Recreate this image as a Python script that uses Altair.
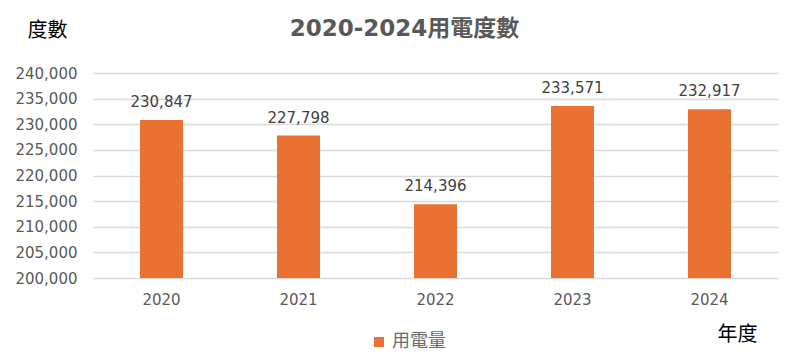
import altair as alt
import pandas as pd

years = ["2020", "2021", "2022", "2023", "2024"]
usage = [230847, 227798, 214396, 233571, 232917]
series = ["用電量"] * 5

df = pd.DataFrame({"年度": years, "用電量值": usage, "系列": series})

FONT = "DejaVu Sans, Noto Sans CJK TC, sans-serif"
CJK = "Noto Sans CJK TC, sans-serif"
GRAY = "#595959"

base = alt.Chart(df).encode(
    x=alt.X("年度:N", sort=years,
            scale=alt.Scale(paddingInner=0.69, paddingOuter=0.345),
            axis=alt.Axis(labelAngle=0, domain=False, ticks=False, labelPadding=14,
                          labelFontSize=15, labelColor=GRAY, labelFont=FONT,
                          title="年度", titleFontSize=20, titleFontWeight="normal",
                          titleColor="#000000", titleFont=CJK,
                          titleX=644, titleY=56, titleAlign="center", titleBaseline="middle")),
    y=alt.Y("用電量值:Q",
            scale=alt.Scale(domain=[200000, 240000], zero=False, nice=False),
            axis=alt.Axis(values=list(range(200000, 240001, 5000)),
                          labelExpr="format(datum.value, ',')",
                          domain=False, ticks=False, labelPadding=16,
                          labelFontSize=15, labelColor=GRAY, labelFont=FONT,
                          gridColor="#D9D9D9", gridWidth=1.3,
                          title="度數", titleAngle=0, titleFontSize=20,
                          titleFontWeight="normal", titleColor="#000000", titleFont=CJK,
                          titleX=-46, titleY=-43, titleAlign="center", titleBaseline="middle")),
)

bars = base.mark_bar(size=43, clip=True).encode(
    color=alt.Color("系列:N", scale=alt.Scale(range=["#E97132"]),
                    legend=alt.Legend(title=None, orient="none", legendX=277, legendY=260,
                                      symbolType="square", symbolSize=100, symbolStrokeWidth=0,
                                      labelFontSize=18, labelColor="#6B6B6B", labelFont=CJK,
                                      labelOffset=4)),
)

labels = base.mark_text(dy=-10, baseline="bottom", fontSize=15, color="#404040", font=FONT).encode(
    text=alt.Text("用電量值:Q", format=","),
)

chart = alt.layer(bars, labels).properties(
    width=685, height=205,
    title=alt.TitleParams("2020-2024用電度數", anchor="middle", frame="group",
                          fontSize=23, fontWeight="bold", color=GRAY, font=FONT,
                          dx=-31, offset=-21),
    autosize=alt.AutoSizeParams(type="none"),
    padding={"left": 85, "top": 65, "right": 12, "bottom": 76},
).configure_view(stroke=None)

chart.save("out.html", embed_options={"renderer": "svg", "actions": False})
